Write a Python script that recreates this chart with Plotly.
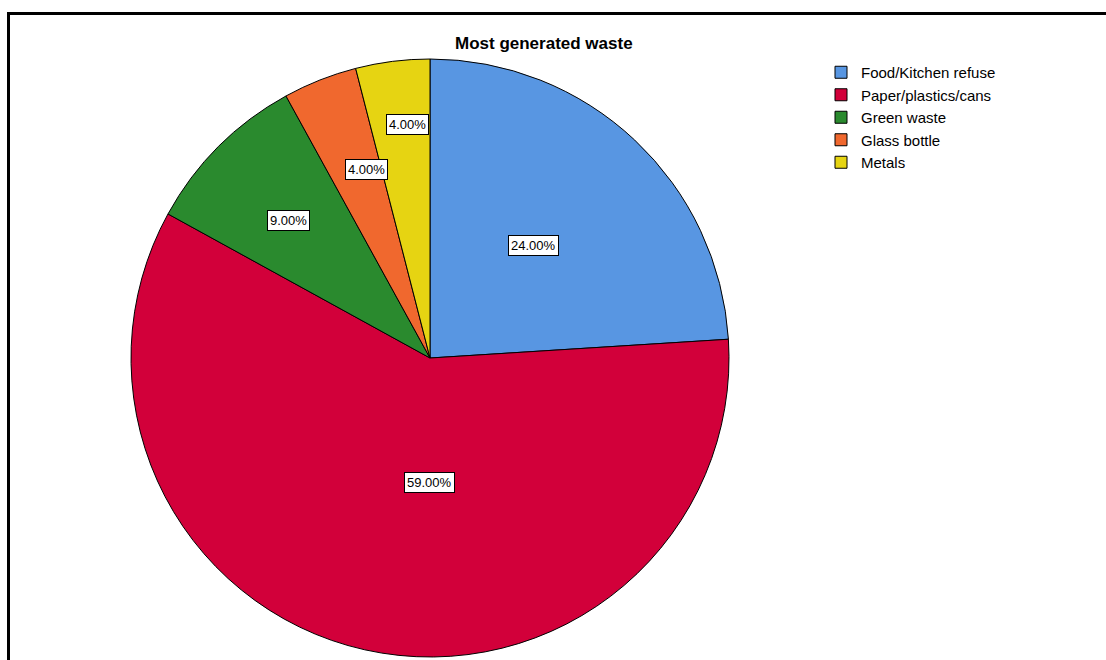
import math
import plotly.graph_objects as go

categories = ["Food/Kitchen refuse", "Paper/plastics/cans", "Green waste", "Glass bottle", "Metals"]
values = [24, 59, 9, 4, 4]
label_texts = ["24.00%", "59.00%", "9.00%", "4.00%", "4.00%"]

colors = ["#5896E2", "#D2003A", "#2A8A2E", "#F0682E", "#E6D412"]
label_radius = [0.51, 0.418, 0.662, 0.665, 0.786]
label_angle_shift = [-0.6, -12.6, -0.8, 3.0, 1.8]

W, H = 1106, 660
cx, cy, R = 430, 358, 299

fig = go.Figure(go.Pie(
    labels=categories, values=values, sort=False, direction="clockwise", rotation=0,
    marker=dict(colors=colors, line=dict(color="#000000", width=1)),
    textinfo="none", hoverinfo="label+percent",
    domain=dict(x=[(cx - R) / W, (cx + R) / W], y=[1 - (cy + R) / H, 1 - (cy - R) / H]),
))

total = sum(values)
cum = 0
annotations = []
for i, v in enumerate(values):
    mid = (cum + v / 2) / total * 360 + label_angle_shift[i]
    cum += v
    a = math.radians(mid)
    px = cx + label_radius[i] * R * math.sin(a)
    py = cy - label_radius[i] * R * math.cos(a)
    annotations.append(dict(
        x=px / W, y=1 - py / H, xref="paper", yref="paper", text=label_texts[i],
        xanchor="center", yanchor="middle",
        showarrow=False, font=dict(family="Liberation Sans, Arial", size=13, color="#000"),
        bgcolor="#FFFFFF", bordercolor="#000000", borderwidth=1, borderpad=2,
    ))

fig.update_layout(
    width=W, height=H, margin=dict(l=0, r=0, t=0, b=0),
    paper_bgcolor="#FFFFFF", plot_bgcolor="#FFFFFF",
    title=dict(text="<b>Most generated waste</b>", x=455 / W, xanchor="left",
               y=1 - 43 / H, yanchor="middle",
               font=dict(family="Liberation Sans, Arial", size=17, color="#000")),
    legend=dict(x=821 / W, y=1 - 56 / H, xanchor="left", yanchor="top",
                font=dict(family="Liberation Sans, Arial", size=15, color="#000"),
                itemwidth=30, tracegroupgap=0, bgcolor="rgba(0,0,0,0)"),
    annotations=annotations,
    shapes=[dict(type="rect", xref="paper", yref="paper",
                 x0=8.5 / W, x1=1.02, y0=-0.02, y1=1 - 13.5 / H,
                 line=dict(color="#000000", width=3), fillcolor="rgba(0,0,0,0)", layer="above")],
)

fig.write_html("out.html")
